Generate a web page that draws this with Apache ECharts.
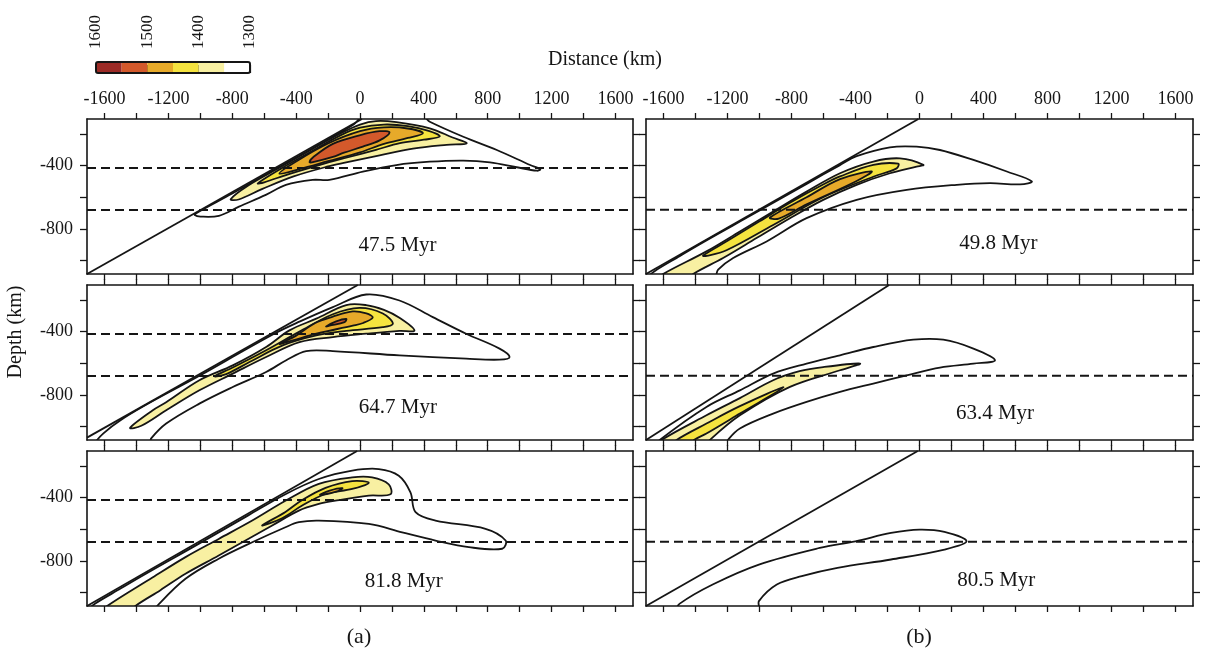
<!DOCTYPE html>
<html>
<head>
<meta charset="utf-8">
<script src="https://cdn.jsdelivr.net/npm/echarts@6/dist/echarts.min.js"></script>
<style>
  html, body { margin: 0; padding: 0; background: #fff; }
  #chart { width: 1208px; height: 654px; }
</style>
</head>
<body>
<div id="chart"></div>
<script>
/* 温度色标：每 50 一档 */
var levels = [1600, 1550, 1500, 1450, 1400, 1350, 1300];
var levelColors = ["#9c2b26", "#d3592b", "#e7aa2a", "#f5e33f", "#f8f0a2", "#ffffff"];
var levelLabels = [1600, 1500, 1400, 1300];

/* 坐标轴刻度 */
var xRange = [-1710, 1710];
var yRange = [-1085, -105];
var xTicks = [-1600, -1400, -1200, -1000, -800, -600, -400, -200, 0, 200, 400, 600, 800, 1000, 1200, 1400, 1600];
var xLabels = [-1600, -1200, -800, -400, 0, 400, 800, 1200, 1600];
var yTicks = [-1000, -800, -600, -400, -200];
var yLabels = [-800, -400];

/* 各子图：左列 (a) 三个，右列 (b) 三个 */
var ages = ["47.5 Myr", "64.7 Myr", "81.8 Myr", "49.8 Myr", "63.4 Myr", "80.5 Myr"];
var agePos = [[235, -905], [237, -881], [274, -928], [493, -892], [472, -918], [480, -925]];
var slabLines = [
    [[-1710, -1085], [12, -105]],
    [[-1710, -1070], [-14, -105]],
    [[-1710, -1085], [-18, -105]],
    [[-1710, -1085], [-7, -105]],
    [[-1710, -1085], [-190, -105]],
    [[-1710, -1085], [-11, -105]]
];
var dashDepths = [[-415, -680], [-415, -680], [-415, -680], [-678], [-678], [-678]];

/* 等温线（km, km） */
var p1c1300 = [[-1035, -712], [-1025, -700], [-800, -576], [-600, -462], [-400, -348], [-200, -235], [-40, -140], [15, -95], [400, -95], [437, -122], [647, -217], [857, -301], [1066, -396], [1129, -423], [1108, -432], [982, -410], [814, -379], [647, -368], [437, -375], [228, -396], [18, -438], [-192, -490], [-297, -490], [-464, -522], [-590, -585], [-758, -659], [-884, -717], [-999, -722]];
var p1c1350 = [[-810, -612], [-700, -525], [-500, -410], [-300, -296], [-120, -195], [0, -140], [100, -118], [228, -125], [437, -164], [580, -222], [668, -259], [542, -268], [332, -292], [123, -335], [-87, -380], [-200, -405], [-416, -468], [-611, -547], [-760, -614]];
var p1c1400 = [[-640, -512], [-500, -422], [-300, -308], [-120, -207], [0, -160], [150, -140], [300, -150], [430, -180], [500, -215], [400, -236], [250, -258], [100, -300], [-87, -350], [-250, -395], [-450, -455], [-600, -505]];
var p1c1450 = [[-505, -450], [-400, -374], [-200, -260], [0, -182], [150, -158], [300, -165], [394, -195], [300, -225], [150, -262], [0, -316], [-200, -372], [-380, -422]];
var p1c1500 = [[-316, -378], [-295, -348], [-170, -262], [-3, -208], [123, -182], [185, -190], [123, -240], [18, -280], [-100, -318], [-170, -345], [-295, -378]];

var p2c1300 = [[-1650, -1110], [-1500, -960], [-1000, -676], [-546, -418], [-379, -337], [-170, -245], [39, -165], [247, -203], [456, -308], [665, -413], [874, -507], [937, -560], [874, -577], [665, -571], [247, -550], [-170, -523], [-337, -523], [-462, -581], [-588, -655], [-797, -750], [-1006, -855], [-1214, -981], [-1308, -1075], [-1320, -1110]];
var p2c1350 = [[-1440, -1008], [-1300, -898], [-1214, -846], [-1006, -707], [-797, -613], [-588, -497], [-442, -392], [-274, -318], [-86, -232], [39, -232], [150, -262], [247, -312], [341, -392], [247, -395], [39, -413], [-170, -434], [-379, -466], [-588, -560], [-797, -665], [-1006, -771], [-1214, -897], [-1370, -995]];
var p2c1400 = [[-911, -682], [-797, -627], [-588, -518], [-379, -400], [-170, -290], [-3, -250], [143, -285], [206, -350], [143, -372], [-86, -395], [-274, -424], [-484, -487], [-692, -592], [-838, -668]];
var p2c1450 = [[-504, -478], [-400, -425], [-280, -345], [-170, -305], [-45, -272], [40, -285], [80, -310], [20, -345], [-45, -362], [-274, -413], [-420, -455]];
var p2c1500 = [[-212, -367], [-149, -335], [-86, -320], [-97, -340], [-191, -362]];

var p3c1300 = [[-1690, -1110], [-1500, -975], [-1000, -686], [-700, -512], [-467, -378], [-258, -282], [-49, -229], [118, -219], [243, -261], [316, -366], [348, -492], [473, -545], [786, -597], [912, -671], [891, -723], [682, -713], [473, -671], [264, -619], [55, -566], [-258, -545], [-383, -555], [-467, -587], [-675, -682], [-885, -786], [-1093, -913], [-1271, -1085], [-1280, -1110]];
var p3c1350 = [[-1600, -1110], [-1584, -1085], [-1300, -905], [-1093, -776], [-885, -661], [-675, -545], [-467, -420], [-258, -313], [-49, -272], [76, -272], [180, -316], [191, -379], [55, -387], [-154, -419], [-258, -440], [-383, -482], [-550, -576], [-885, -766], [-1093, -881], [-1250, -985], [-1407, -1085], [-1420, -1110]];
var p3c1400 = [[-613, -576], [-467, -490], [-362, -415], [-216, -338], [-49, -295], [55, -305], [-49, -345], [-216, -377], [-362, -450], [-488, -530]];
var p3c1450 = [[-250, -382], [-190, -355], [-110, -340], [-150, -362]];

var p4c1300 = [[-1690, -1110], [-1500, -972], [-1000, -684], [-700, -512], [-500, -398], [-393, -340], [-185, -284], [-18, -280], [128, -301], [337, -364], [546, -437], [702, -499], [629, -518], [441, -511], [233, -521], [-80, -553], [-393, -616], [-706, -732], [-956, -879], [-1165, -984], [-1259, -1058], [-1285, -1110]];
var p4c1350 = [[-1620, -1110], [-1603, -1085], [-1332, -942], [-1123, -816], [-915, -690], [-706, -564], [-497, -448], [-289, -374], [-122, -354], [24, -395], [-18, -406], [-185, -448], [-393, -521], [-602, -616], [-810, -732], [-1019, -858], [-1228, -984], [-1415, -1085], [-1430, -1110]];
var p4c1400 = [[-1353, -968], [-1200, -875], [-1000, -752], [-810, -635], [-600, -518], [-497, -468], [-289, -395], [-133, -387], [-143, -417], [-289, -470], [-602, -600], [-915, -775], [-1207, -935], [-1330, -970]];
var p4c1450 = [[-935, -728], [-706, -600], [-497, -485], [-299, -437], [-393, -497], [-706, -645], [-880, -735]];

var p5c1300 = [[-1630, -1110], [-1624, -1085], [-1332, -876], [-1123, -771], [-915, -665], [-706, -602], [-497, -550], [-289, -497], [-39, -451], [149, -451], [337, -507], [472, -581], [337, -602], [128, -627], [-80, -676], [-289, -728], [-497, -781], [-706, -844], [-915, -918], [-1123, -1012], [-1196, -1082], [-1205, -1110]];
var p5c1350 = [[-1620, -1110], [-1613, -1085], [-1332, -929], [-1123, -820], [-915, -707], [-750, -650], [-602, -624], [-372, -602], [-497, -644], [-810, -749], [-1123, -929], [-1311, -1085], [-1320, -1110]];
var p5c1400 = [[-1525, -1110], [-1519, -1085], [-1332, -981], [-1123, -871], [-850, -752], [-1123, -918], [-1332, -1044], [-1410, -1085], [-1415, -1110]];

var p6c1300 = [[-1515, -1110], [-1499, -1070], [-1293, -949], [-1004, -823], [-624, -718], [-401, -676], [-178, -623], [0, -602], [156, -617], [294, -676], [156, -728], [-178, -791], [-513, -844], [-736, -896], [-892, -949], [-1004, -1054], [-1008, -1110]];

var panelContours = [
    [[1300, p1c1300], [1350, p1c1350], [1400, p1c1400], [1450, p1c1450], [1500, p1c1500]],
    [[1300, p2c1300], [1350, p2c1350], [1400, p2c1400], [1450, p2c1450], [1500, p2c1500]],
    [[1300, p3c1300], [1350, p3c1350], [1400, p3c1400], [1450, p3c1450]],
    [[1300, p4c1300], [1350, p4c1350], [1400, p4c1400], [1450, p4c1450]],
    [[1300, p5c1300], [1350, p5c1350], [1400, p5c1400]],
    [[1300, p6c1300]]
];

var FONT = '"Liberation Serif", "DejaVu Serif", serif';
var INK = "#151515";

/* 版面：两列三行 */
var cols = [{ left: 87, width: 546 }, { left: 646, width: 547 }];
var rows = [119, 285, 451];

function fillOf(level) {
    return levelColors[levels.indexOf(level) - 1];
}

/* 刻度文字不要千位分隔符 */
function plain(v) { return String(v); }

var grids = [], xAxes = [], yAxes = [], series = [];

function xAxisFor(k, pos, showLabel) {
    return {
        type: "value", gridIndex: k, position: pos, z: 10,
        min: xRange[0], max: xRange[1],
        axisLine: { show: true, onZero: false, lineStyle: { color: INK, width: 1.6 } },
        axisTick: { show: true, inside: false, length: 6, customValues: xTicks, lineStyle: { color: INK, width: 1.3 } },
        axisLabel: { show: showLabel, customValues: xLabels, formatter: plain, margin: 11, fontSize: 18, fontFamily: FONT, color: INK },
        splitLine: { show: false }
    };
}

function yAxisFor(k, pos, showLabel) {
    return {
        type: "value", gridIndex: k, position: pos, z: 10,
        min: yRange[0], max: yRange[1],
        axisLine: { show: true, onZero: false, lineStyle: { color: INK, width: 1.6 } },
        axisTick: { show: true, inside: false, length: 7, customValues: yTicks, lineStyle: { color: INK, width: 1.3 } },
        axisLabel: { show: showLabel, customValues: yLabels, formatter: plain, margin: 14, fontSize: 18, fontFamily: FONT, color: INK },
        splitLine: { show: false }
    };
}

for (var c = 0; c < 2; c++) {
    for (var r = 0; r < 3; r++) {
        var k = c * 3 + r;
        grids.push({ left: cols[c].left, width: cols[c].width, top: rows[r], height: 155, outerBoundsMode: "none" });
        xAxes.push(xAxisFor(k, "top", r === 0));
        xAxes.push(xAxisFor(k, "bottom", false));
        yAxes.push(yAxisFor(k, "left", c === 0));
        yAxes.push(yAxisFor(k, "right", false));

        /* 等温线填色 + 黑色轮廓 */
        (function (contours) {
            series.push({
                type: "custom", xAxisIndex: 2 * k, yAxisIndex: 2 * k, clip: true, silent: true, z: 2,
                data: contours.map(function (ct) { return ct[1][0]; }),
                renderItem: function (params, api) {
                    var ct = contours[params.dataIndex];
                    var pts = ct[1].map(function (p) { return api.coord(p); });
                    return {
                        type: "polygon",
                        shape: { points: pts, smooth: 0.35 },
                        style: { fill: fillOf(ct[0]), stroke: INK, lineWidth: 1.8 }
                    };
                }
            });
        })(panelContours[k]);

        /* 俯冲板片上表面 */
        series.push({
            type: "line", xAxisIndex: 2 * k, yAxisIndex: 2 * k, data: slabLines[k],
            symbol: "none", silent: true, z: 4,
            lineStyle: { color: INK, width: 1.8 }
        });

        /* 410 / 660 间断面虚线 */
        dashDepths[k].forEach(function (d) {
            series.push({
                type: "line", xAxisIndex: 2 * k, yAxisIndex: 2 * k,
                data: [[xRange[0], d], [xRange[1], d]],
                symbol: "none", silent: true, z: 5,
                lineStyle: { color: INK, width: 2, type: [9, 5] }
            });
        });

        /* 时间标注 */
        (function (txt) {
            series.push({
                type: "custom", xAxisIndex: 2 * k, yAxisIndex: 2 * k, silent: true, z: 6,
                data: [agePos[k]],
                renderItem: function (params, api) {
                    var p = api.coord([api.value(0), api.value(1)]);
                    return {
                        type: "text", x: p[0], y: p[1],
                        style: {
                            text: txt, fill: INK, font: "21px " + FONT,
                            align: "center", verticalAlign: "middle",
                            textAlign: "center", textVerticalAlign: "middle"
                        }
                    };
                }
            });
        })(ages[k]);
    }
}

/* 色标 */
grids.push({ left: 96, top: 62, width: 154, height: 11, outerBoundsMode: "none" });
xAxes.push({
    type: "value", gridIndex: 6, position: "top", min: 1300, max: 1600, inverse: true,
    axisLine: { show: false },
    axisTick: { show: true, inside: false, length: 8, customValues: levelLabels, lineStyle: { color: INK, width: 1.2 } },
    axisLabel: { show: true, customValues: levelLabels, formatter: plain, rotate: 90, margin: 13, fontSize: 17, fontFamily: FONT, color: INK },
    splitLine: { show: false }
});
yAxes.push({ type: "value", gridIndex: 6, min: 0, max: 1, show: false });
series.push({
    type: "custom", xAxisIndex: 12, yAxisIndex: 12, silent: true, z: 2,
    data: levelColors.map(function (col, i) { return [levels[i], 0]; }),
    renderItem: function (params, api) {
        var i = params.dataIndex;
        var a = api.coord([levels[i], 1]), b = api.coord([levels[i + 1], 0]);
        return {
            type: "rect",
            shape: { x: Math.min(a[0], b[0]), y: a[1], width: Math.abs(b[0] - a[0]), height: b[1] - a[1] },
            style: { fill: levelColors[i] }
        };
    }
});
series.push({
    type: "custom", xAxisIndex: 12, yAxisIndex: 12, silent: true, z: 3,
    data: [[levels[0], 1]],
    renderItem: function (params, api) {
        var a = api.coord([levels[0], 1]), b = api.coord([levels[levels.length - 1], 0]);
        return {
            type: "rect",
            shape: { x: a[0], y: a[1], width: b[0] - a[0], height: b[1] - a[1], r: 2 },
            style: { fill: "none", stroke: INK, lineWidth: 2 }
        };
    }
});

var chart = echarts.init(document.getElementById("chart"), null, { renderer: "canvas" });
chart.setOption({
    animation: false,
    backgroundColor: "#ffffff",
    grid: grids,
    xAxis: xAxes,
    yAxis: yAxes,
    series: series,
    graphic: [
        { type: "text", x: 605, y: 60, silent: true,
          style: { text: "Distance (km)", font: "20px " + FONT, fill: INK, align: "center", verticalAlign: "middle", textAlign: "center", textVerticalAlign: "middle" } },
        { type: "text", x: 16, y: 332, rotation: Math.PI / 2, silent: true,
          style: { text: "Depth (km)", font: "20px " + FONT, fill: INK, align: "center", verticalAlign: "middle", textAlign: "center", textVerticalAlign: "middle" } },
        { type: "text", x: 359, y: 637, silent: true,
          style: { text: "(a)", font: "22px " + FONT, fill: INK, align: "center", verticalAlign: "middle", textAlign: "center", textVerticalAlign: "middle" } },
        { type: "text", x: 919, y: 637, silent: true,
          style: { text: "(b)", font: "22px " + FONT, fill: INK, align: "center", verticalAlign: "middle", textAlign: "center", textVerticalAlign: "middle" } }
    ]
});

window.addEventListener("resize", function () { chart.resize(); });
</script>
</body>
</html>
